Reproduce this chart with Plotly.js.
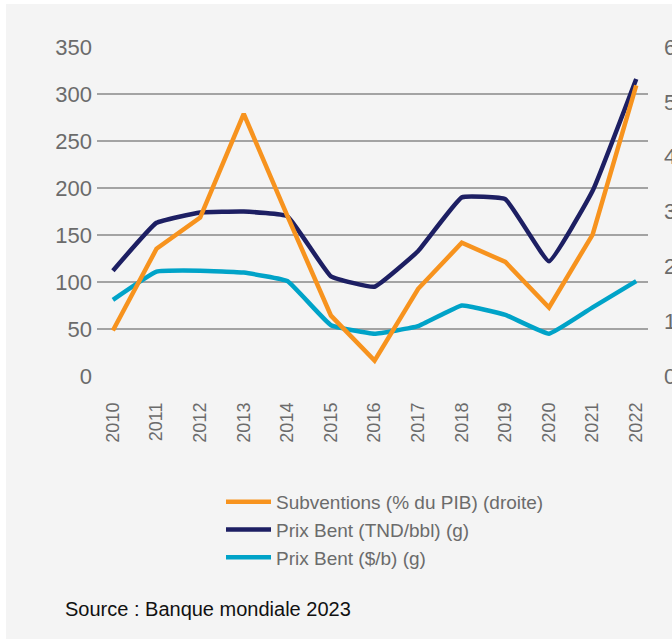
<!DOCTYPE html>
<html>
<head>
<meta charset="utf-8">
<script src="https://cdn.plot.ly/plotly-3.0.1.min.js"></script>
<style>html,body{margin:0;padding:0;background:#fff;}#chart{width:672px;height:641px;}</style>
</head>
<body>
<div id="chart"></div>
<script>
const years = ["2010","2011","2012","2013","2014","2015","2016","2017","2018","2019","2020","2021","2022"];
const subventions = [0.83, 2.32, 2.89, 4.78, 2.92, 1.10, 0.28, 1.59, 2.43, 2.08, 1.25, 2.58, 5.30];
const prixTND = [112, 163, 174, 175, 170, 106, 95, 133, 190, 188, 122, 197, 316];
const prixUSD = [81, 111, 112, 110, 101, 54, 45, 53, 75, 65, 45, 73, 101];
const leftTicks = [0, 50, 100, 150, 200, 250, 300, 350];
const rightTicks = [0, 1, 2, 3, 4, 5, 6];

const FONT = "Liberation Sans, Arial, sans-serif";
const GREY = "#6b6b6b";

const L = 97, R = 24, T = 47, B = 265;
const PW = 672 - L - R, PH = 641 - T - B;
const px = v => (v - L) / PW;
const py = v => (641 - B - v) / PH;

const traces = [
  {x: years, y: subventions, name: "Subventions (% du PIB) (droite)", yaxis: "y2", type: "scatter", mode: "lines",
   line: {color: "#F7931E", width: 4.5}},
  {x: years, y: prixTND, name: "Prix Bent (TND/bbl) (g)", type: "scatter", mode: "lines",
   line: {color: "#1D1F63", width: 4.5, shape: "spline", smoothing: 0.3}},
  {x: years, y: prixUSD, name: "Prix Bent ($/b) (g)", type: "scatter", mode: "lines",
   line: {color: "#00A3C8", width: 4.5, shape: "spline", smoothing: 0.3}}
];

const layout = {
  width: 672, height: 641,
  margin: {l: L, r: R, t: T, b: B, pad: 0, autoexpand: false},
  paper_bgcolor: "#ffffff",
  plot_bgcolor: "rgba(0,0,0,0)",
  font: {family: FONT, color: GREY},
  showlegend: true,
  xaxis: {
    type: "category", range: [-0.365, 12.27], automargin: false,
    showgrid: false, zeroline: false, showline: false, ticks: "",
    tickangle: -90, tickfont: {size: 18, color: GREY, family: FONT},
    ticklabelstandoff: 22
  },
  yaxis: {
    range: [0, 350], tickvals: leftTicks, ticktext: leftTicks.map(String), automargin: false,
    showgrid: true, gridcolor: "#a3a3a3", gridwidth: 1.6,
    zeroline: false, showline: false, ticks: "",
    tickfont: {size: 22, color: GREY, family: FONT},
    ticklabelstandoff: 4
  },
  yaxis2: {
    overlaying: "y", side: "right", range: [0, 6], automargin: false,
    tickvals: rightTicks, ticktext: rightTicks.map(String),
    showgrid: false, zeroline: false, showline: false, ticks: "",
    tickfont: {size: 22, color: GREY, family: FONT},
    ticklabelstandoff: 15
  },
  legend: {
    x: px(221), y: py(483), xanchor: "left", yanchor: "top",
    bgcolor: "rgba(0,0,0,0)", borderwidth: 0,
    font: {size: 19, color: GREY, family: FONT},
    itemwidth: 45, traceorder: "normal", tracegroupgap: 0
  },
  shapes: [
    {type: "rect", xref: "paper", yref: "paper", layer: "below",
     x0: px(6), x1: px(700), y0: py(639), y1: py(4),
     fillcolor: "#f4f4f4", line: {width: 0}}
  ],
  annotations: [
    {xref: "paper", yref: "paper", x: px(63), y: py(609),
     xanchor: "left", yanchor: "middle", showarrow: false,
     text: "Source : Banque mondiale 2023",
     font: {size: 20, color: "#111111", family: FONT}}
  ]
};

Plotly.newPlot("chart", traces, layout, {displayModeBar: false, staticPlot: true});
</script>
</body>
</html>
